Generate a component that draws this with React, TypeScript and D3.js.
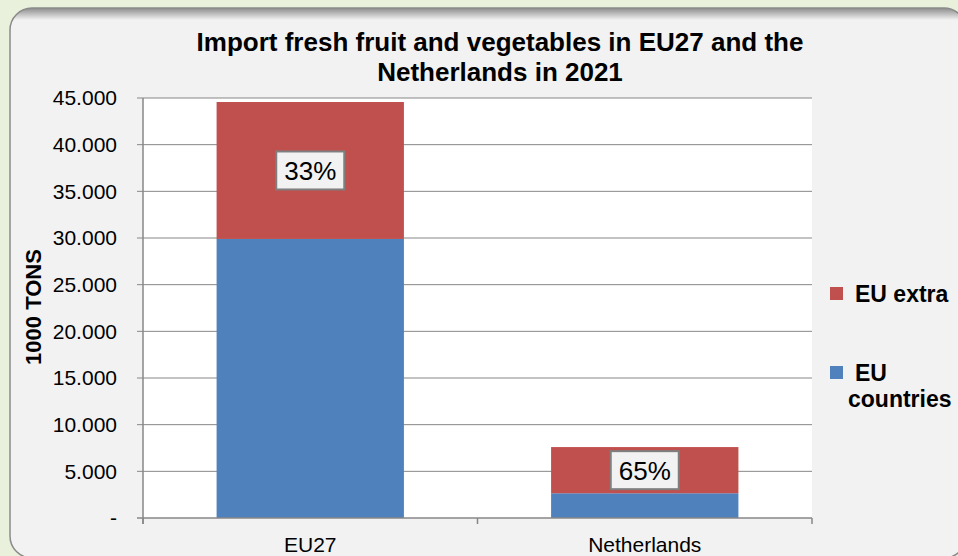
import React, { useRef, useEffect } from "react"
import * as d3 from "d3"

// chart data (1000 tons)
const categories = ["EU27", "Netherlands"]
const euCountries = [29900, 2650]
const euExtra = [14670, 4950]
const shareLabels = ["33%", "65%"]
const yTicks = [0, 5000, 10000, 15000, 20000, 25000, 30000, 35000, 40000, 45000]
const seriesNames = ["EU extra", "EU countries"]
const seriesColors = ["#c0504d", "#4f81bd"]

const FONT = "'Liberation Sans', Arial, sans-serif"

export default function App() {
    const svgRef = useRef<SVGSVGElement>(null)

    useEffect(() => {
        const width = 958
        const height = 556
        const plot = { left: 143, right: 812, top: 98, bottom: 518 }
        const panel = { x: 10, y: 8, w: 956, h: 550, r: 22 }

        const svg = d3.select(svgRef.current)
        svg.selectAll("*").remove()
        svg.attr("width", width).attr("height", height)

        // page + panel
        svg.append("rect").attr("width", width).attr("height", height).attr("fill", "#e9f0dc")
        const defs = svg.append("defs")
        const grad = defs.append("linearGradient").attr("id", "topShade").attr("x1", 0).attr("x2", 0).attr("y1", 0).attr("y2", 1)
        grad.append("stop").attr("offset", "0%").attr("stop-color", "#8c8c8c")
        grad.append("stop").attr("offset", "100%").attr("stop-color", "#f2f2f2")
        defs.append("clipPath").attr("id", "panelClip")
            .append("rect").attr("x", panel.x).attr("y", panel.y).attr("width", panel.w).attr("height", panel.h).attr("rx", panel.r)

        svg.append("rect")
            .attr("x", panel.x).attr("y", panel.y).attr("width", panel.w).attr("height", panel.h)
            .attr("rx", panel.r).attr("fill", "#f2f2f2")
        svg.append("rect")
            .attr("x", panel.x).attr("y", panel.y).attr("width", panel.w).attr("height", 12)
            .attr("fill", "url(#topShade)").attr("clip-path", "url(#panelClip)")
        svg.append("rect")
            .attr("x", panel.x).attr("y", panel.y).attr("width", panel.w).attr("height", panel.h)
            .attr("rx", panel.r).attr("fill", "none")
            .attr("stroke", "#8a8a8a").attr("stroke-width", 1.5)

        // plot background
        svg.append("rect")
            .attr("x", plot.left).attr("y", plot.top)
            .attr("width", plot.right - plot.left).attr("height", plot.bottom - plot.top)
            .attr("fill", "#ffffff")

        const x = d3.scaleBand<string>()
            .domain(categories)
            .range([plot.left, plot.right])
            .paddingInner(0.44)
            .paddingOuter(0.22)

        const y = d3.scaleLinear()
            .domain([0, 45000])
            .range([plot.bottom, plot.top])

        // gridlines
        svg.append("g")
            .selectAll("line")
            .data(yTicks.slice(1))
            .join("line")
            .attr("x1", plot.left - 6).attr("x2", plot.right)
            .attr("y1", d => y(d)).attr("y2", d => y(d))
            .attr("stroke", "#878787").attr("stroke-width", 1)

        // stacked bars
        const stacked = categories.map((c, i) => ({ cat: c, base: euCountries[i], extra: euExtra[i], label: shareLabels[i] }))
        const bars = svg.append("g")
        bars.selectAll(".blue")
            .data(stacked)
            .join("rect")
            .attr("x", d => x(d.cat)!)
            .attr("width", x.bandwidth())
            .attr("y", d => y(d.base))
            .attr("height", d => y(0) - y(d.base))
            .attr("fill", seriesColors[1])
        bars.selectAll(".red")
            .data(stacked)
            .join("rect")
            .attr("x", d => x(d.cat)!)
            .attr("width", x.bandwidth())
            .attr("y", d => y(d.base + d.extra))
            .attr("height", d => y(d.base) - y(d.base + d.extra))
            .attr("fill", seriesColors[0])

        // percentage labels in the red segment
        const lab = svg.append("g").selectAll("g")
            .data(stacked)
            .join("g")
            .attr("transform", d => `translate(${x(d.cat)! + x.bandwidth() / 2}, ${(y(d.base) + y(d.base + d.extra)) / 2})`)
        lab.append("rect")
            .attr("x", -34).attr("y", -19).attr("width", 68).attr("height", 38)
            .attr("fill", "#f2f2f2").attr("stroke", "#7f7f7f").attr("stroke-width", 2)
        lab.append("text")
            .attr("text-anchor", "middle").attr("dy", "0.36em")
            .attr("font-family", FONT).attr("font-size", 26)
            .text(d => d.label)

        // y axis
        const yAxis = svg.append("g")
        yAxis.append("line")
            .attr("x1", plot.left).attr("x2", plot.left)
            .attr("y1", plot.top).attr("y2", plot.bottom + 6)
            .attr("stroke", "#878787").attr("stroke-width", 1.5)
        yAxis.selectAll("text")
            .data(yTicks)
            .join("text")
            .attr("x", 117).attr("y", d => y(d))
            .attr("dy", "0.35em").attr("text-anchor", "end")
            .attr("font-family", FONT).attr("font-size", 21).attr("fill", "#000")
            .text(d => d === 0 ? "-" : d3.format(",")(d).replace(/,/g, "."))

        // x axis
        const xAxis = svg.append("g")
        xAxis.append("line")
            .attr("x1", plot.left - 6).attr("x2", plot.right)
            .attr("y1", plot.bottom).attr("y2", plot.bottom)
            .attr("stroke", "#878787").attr("stroke-width", 1.5)
        const bounds = [plot.left, plot.left + (plot.right - plot.left) / 2, plot.right]
        xAxis.selectAll(".tick")
            .data(bounds)
            .join("line")
            .attr("x1", d => d).attr("x2", d => d)
            .attr("y1", plot.bottom).attr("y2", plot.bottom + 6)
            .attr("stroke", "#878787").attr("stroke-width", 1.5)
        xAxis.selectAll("text")
            .data(categories)
            .join("text")
            .attr("x", d => x(d)! + x.bandwidth() / 2)
            .attr("y", 552).attr("text-anchor", "middle")
            .attr("font-family", FONT).attr("font-size", 21)
            .text(d => d)

        // axis title
        svg.append("text")
            .attr("transform", "translate(33, 307) rotate(-90)")
            .attr("text-anchor", "middle").attr("dy", "0.35em")
            .attr("font-family", FONT).attr("font-size", 22).attr("font-weight", "bold")
            .text("1000 TONS")

        // chart title
        const title = svg.append("text")
            .attr("text-anchor", "middle")
            .attr("font-family", FONT).attr("font-size", 26).attr("font-weight", "bold")
        title.append("tspan").attr("x", 500).attr("y", 51).text("Import fresh fruit and vegetables in EU27 and the")
        title.append("tspan").attr("x", 500).attr("y", 81).text("Netherlands in 2021")

        // legend
        const legend = svg.append("g").attr("font-family", FONT).attr("font-size", 23).attr("font-weight", "bold")
        legend.append("rect").attr("x", 830).attr("y", 287).attr("width", 13).attr("height", 13).attr("fill", seriesColors[0])
        legend.append("text").attr("x", 855).attr("y", 302).text(seriesNames[0])
        legend.append("rect").attr("x", 830).attr("y", 366).attr("width", 13).attr("height", 13).attr("fill", seriesColors[1])
        const l2 = legend.append("text")
        l2.append("tspan").attr("x", 855).attr("y", 381).text("EU")
        l2.append("tspan").attr("x", 848).attr("y", 407).text("countries")
    }, [])

    return <svg ref={svgRef} style={{ position: "absolute", left: 0, top: 0 }}></svg>
}
